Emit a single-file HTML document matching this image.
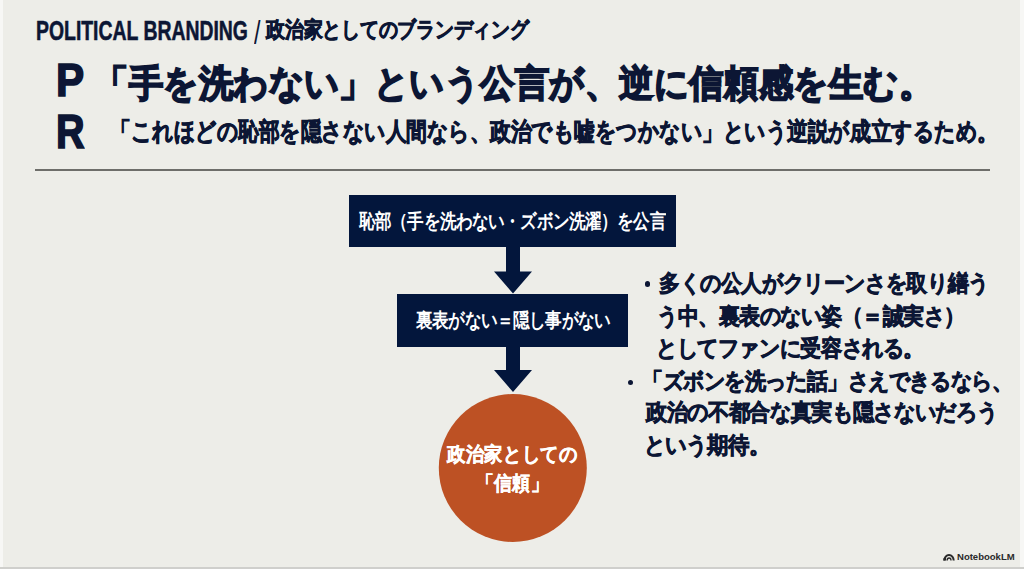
<!DOCTYPE html>
<html lang="ja">
<head>
<meta charset="utf-8">
<style>
html,body{margin:0;padding:0;}
body{width:1024px;height:569px;overflow:hidden;background:#ededE8;position:relative;font-family:"Liberation Sans",sans-serif;}
.t{position:absolute;white-space:nowrap;font-weight:bold;line-height:1;transform-origin:0 0;}
.r{position:absolute;}
</style>
</head>
<body>
<div class="r" style="left:0;top:0;width:3px;height:569px;background:#f7f7f5"></div>
<div class="r" style="left:1020px;top:0;width:4px;height:569px;background:#f7f7f5"></div>
<div class="r" style="left:0;top:567px;width:1024px;height:2px;background:#cfcfcc"></div>
<div class="r" style="left:35px;top:169px;width:955px;height:2px;background:#6e6e6a"></div>
<div class="r" style="left:349px;top:195px;width:327px;height:52px;background:#03163c"></div>
<div class="r" style="left:397px;top:294px;width:231px;height:53px;background:#03163c"></div>
<svg class="r" style="left:0;top:0" width="1024" height="569">
<polygon points="506,246 520,246 520,271.5 532,271.5 513,293.5 494,271.5 506,271.5" fill="#03163c"/>
<polygon points="506,346 520,346 520,370 532,370 513,392 494,370 506,370" fill="#03163c"/>
<circle cx="512.8" cy="468" r="74" fill="#bd5124"/>
</svg>
<svg class="r" style="left:943px;top:552px" width="12" height="9" viewBox="0 0 12 9">
<path d="M1.3,8.6 A4.7,5.6 0 0 1 10.7,8.6" fill="none" stroke="#2a2a2a" stroke-width="2"/>
<path d="M4.2,8.6 A1.9,2.6 0 0 1 8,8.6" fill="none" stroke="#2a2a2a" stroke-width="1.3"/>
<path d="M0.4,8.6 L0.4,6.5 L3,5 L3.2,8.6Z" fill="#2a2a2a"/>
</svg>
<div class="t" style="font-weight:bold;left:35.85px;top:17.22px;font-size:26px;transform:scale(0.7461,1.0444);color:#0c1634;-webkit-text-stroke:0.52px #0c1634">POLITICAL BRANDING</div>
<div class="t" style="font-weight:normal;left:253.6px;top:17.01px;font-size:30px;transform:scale(0.775,1.0795);color:#0c1634;-webkit-text-stroke:0px #0c1634">/</div>
<div class="t" style="font-weight:bold;left:266.44px;top:18.41px;font-size:20px;transform:scale(0.9379,1.09);color:#0c1634;-webkit-text-stroke:0.7px #0c1634">政治家としてのブランディング</div>
<div class="t" style="font-weight:bold;left:56.14px;top:57.35px;font-size:48px;transform:scale(0.8793,0.9743);color:#0c1634;-webkit-text-stroke:1.68px #0c1634">P</div>
<div class="t" style="font-weight:bold;left:56.25px;top:108.48px;font-size:48px;transform:scale(0.8242,1.0029);color:#0c1634;-webkit-text-stroke:1.68px #0c1634">R</div>
<div class="t" style="font-weight:bold;left:94.4px;top:64.91px;font-size:37px;transform:scale(0.9333,1.0083);color:#0c1634;-webkit-text-stroke:1.85px #0c1634">「手を洗わない」という公言が、逆に信頼感を生む。</div>
<div class="t" style="font-weight:bold;left:110.49px;top:119.7px;font-size:22px;transform:scale(0.9343,1.1227);color:#0c1634;-webkit-text-stroke:0.77px #0c1634">「これほどの恥部を隠さない人間なら、政治でも嘘をつかない」という逆説が成立するため。</div>
<div class="t" style="font-weight:bold;left:358.5px;top:212.45px;font-size:17px;transform:scale(0.9498,1.15);color:#fff;-webkit-text-stroke:0px #fff">恥部（手を洗わない・ズボン洗濯）を公言</div>
<div class="t" style="font-weight:bold;left:415.9px;top:311.15px;font-size:17px;transform:scale(0.9512,1.15);color:#fff;-webkit-text-stroke:0px #fff">裏表がない＝隠し事がない</div>
<div class="t" style="font-weight:bold;left:447.3px;top:443.53px;font-size:19px;transform:scale(0.9827,1.0763);color:#fff;-webkit-text-stroke:0.38px #fff">政治家としての</div>
<div class="t" style="font-weight:bold;left:475.75px;top:473.28px;font-size:19px;transform:scale(0.9593,1.0763);color:#fff;-webkit-text-stroke:0.38px #fff">「信頼」</div>
<div class="t" style="font-weight:bold;left:659.0px;top:272.44px;font-size:20px;transform:scale(1.0304,1.1258);color:#0c1634;-webkit-text-stroke:0.7px #0c1634">多くの公人がクリーンさを取り繕う</div>
<div class="t" style="font-weight:bold;left:656.75px;top:304.54px;font-size:20px;transform:scale(1.0262,1.1258);color:#0c1634;-webkit-text-stroke:0.7px #0c1634">う中、裏表のない姿（＝誠実さ）</div>
<div class="t" style="font-weight:bold;left:655.71px;top:336.54px;font-size:20px;transform:scale(1.0311,1.1258);color:#0c1634;-webkit-text-stroke:0.7px #0c1634">としてファンに受容される。</div>
<div class="t" style="font-weight:bold;left:641.59px;top:369.84px;font-size:20px;transform:scale(1.0286,1.1258);color:#0c1634;-webkit-text-stroke:0.7px #0c1634">「ズボンを洗った話」さえできるなら、</div>
<div class="t" style="font-weight:bold;left:645.53px;top:400.87px;font-size:20px;transform:scale(1.0338,1.1258);color:#0c1634;-webkit-text-stroke:0.7px #0c1634">政治の不都合な真実も隠さないだろう</div>
<div class="t" style="font-weight:bold;left:643.86px;top:434.44px;font-size:20px;transform:scale(1.0462,1.1258);color:#0c1634;-webkit-text-stroke:0.7px #0c1634">という期待。</div>
<div class="t" style="font-weight:bold;left:956.75px;top:553.4px;font-size:10px;transform:scale(0.9525,0.875);color:#2a2a2a;-webkit-text-stroke:0px #2a2a2a">NotebookLM</div>
<div class="r" style="left:644.6px;top:281px;width:5.5px;height:5.5px;border-radius:50%;background:#0c1634"></div>
<div class="r" style="left:627.5px;top:379.5px;width:5.2px;height:5.2px;border-radius:50%;background:#0c1634"></div>
</body>
</html>
